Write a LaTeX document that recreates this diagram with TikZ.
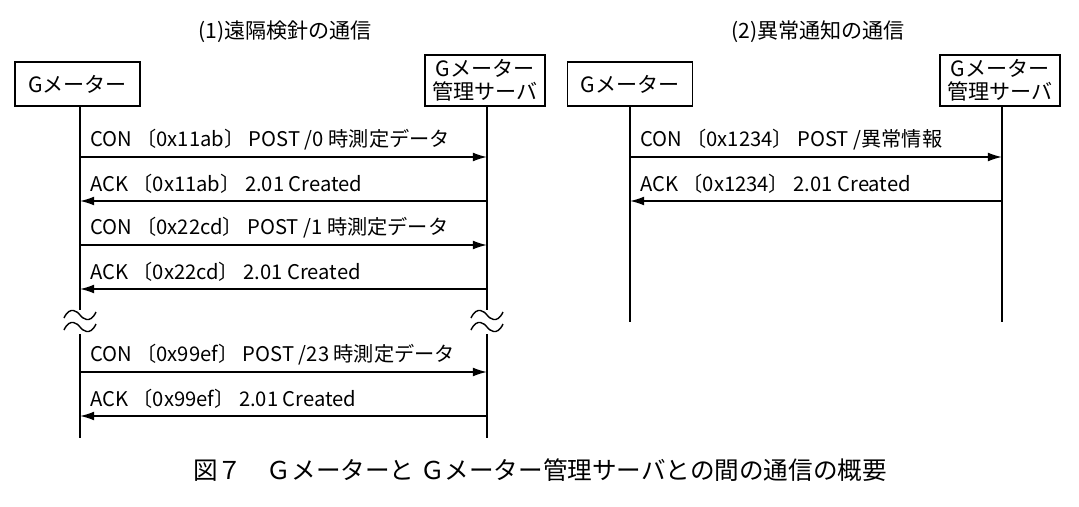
\documentclass[tikz,border=0pt]{standalone}
\usepackage{fontspec}
\setmainfont{Noto Sans CJK JP}
\usetikzlibrary{arrows.meta}
\tikzset{
  box/.style={draw,thick,align=center,inner sep=0pt,minimum width=\boxw,
    font=\fontsize{12}{13}\selectfont},
  lbl/.style={anchor=south west,inner sep=1pt,font=\fontsize{11.5}{13}\selectfont},
  msg/.style={-{Latex[length=8pt,width=5pt]},thick},
  wave/.style={thick}
}
\newlength\boxw
\begin{document}
\begin{tikzpicture}[x=0.02cm,y=-0.02cm]
\useasboundingbox (0,0) rectangle (1079,507);

\node[font=\fontsize{12}{13}\selectfont] (t1) at (285,32) {(1)遠隔検針の通信};
\node[font=\fontsize{12}{13}\selectfont] (t2) at (818,32) {(2)異常通知の通信};

\setlength\boxw{2.5cm}
\node[box,minimum height=0.88cm] (g1) at (77.5,84) {Gメーター};
\node[box,minimum height=0.88cm] (g2) at (630,84) {Gメーター};
\setlength\boxw{2.4cm}
\node[box,minimum height=1.02cm] (s1) at (485,80.5) {Gメーター\\管理サーバ};
\node[box,minimum height=1.02cm] (s2) at (1000,80.5) {Gメーター\\管理サーバ};

% lifelines
\draw[thick] (80,106) -- (80,310) (80,334) -- (80,438);
\draw[thick] (487,106) -- (487,310) (487,334) -- (487,438);
\draw[thick] (630,106) -- (630,322);
\draw[thick] (1002,106) -- (1002,322);

% breaks
\foreach \x in {80,487} {
  \foreach \y in {315,327} {
    \draw[wave] (\x-16,\y+3) .. controls (\x-10,\y-10) and (\x-2,\y-3) .. (\x,\y)
      .. controls (\x+2,\y+3) and (\x+10,\y+10) .. (\x+16,\y-3);
  }
}

% messages (1)
\foreach \y/\d/\t in {157/r/{CON 〔0x11ab〕 POST /0 時測定データ},
                      201/l/{ACK 〔0x11ab〕 2.01 Created},
                      245/r/{CON 〔0x22cd〕 POST /1 時測定データ},
                      289/l/{ACK 〔0x22cd〕 2.01 Created},
                      372/r/{CON 〔0x99ef〕 POST /23 時測定データ},
                      416/l/{ACK 〔0x99ef〕 2.01 Created}} {
  \coordinate (a\y) at (80,\y);
  \coordinate (b\y) at (487,\y);
  \node[lbl] (m\y) at (88,\y-5) {\t};
  \if r\d \draw[msg] (a\y) -- (b\y); \else \draw[msg] (b\y) -- (a\y); \fi
}

% messages (2)
\coordinate (c157) at (630,157);
\coordinate (d157) at (1002,157);
\coordinate (c201) at (630,201);
\coordinate (d201) at (1002,201);
\node[lbl] (n157) at (638,152) {CON 〔0x1234〕 POST /異常情報};
\node[lbl] (n201) at (638,196) {ACK 〔0x1234〕 2.01 Created};
\draw[msg] (c157) -- (d157);
\draw[msg] (d201) -- (c201);

\node[font=\fontsize{14}{15}\selectfont] (cap) at (540,470) {図７　Ｇメーターと Ｇメーター管理サーバとの間の通信の概要};
\end{tikzpicture}
\end{document}
